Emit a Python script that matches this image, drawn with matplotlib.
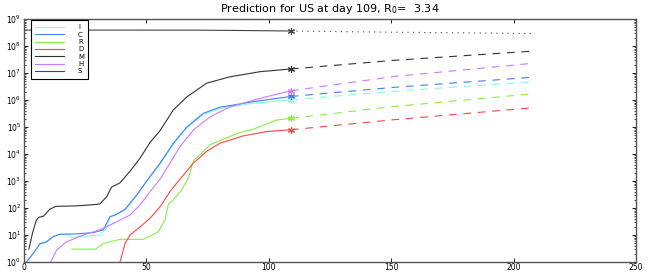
import matplotlib
matplotlib.use("Agg")
import matplotlib.pyplot as plt
from matplotlib.ticker import LogLocator, NullFormatter, MultipleLocator, FixedLocator

plt.rcParams['font.family'] = ['DejaVu Sans']
plt.rcParams['mathtext.default'] = 'regular'

# fitted history (day, value)
days_I = [1, 3.8, 6.5, 9.2, 12, 14.7, 18, 19.5, 25, 31, 33.8, 35.1, 37.2, 41.3, 46, 50.1, 55.6, 61, 66.5, 73.2, 80, 93.7, 109]
vals_I = [1, 2.1, 4.7, 5.6, 8.7, 10.7, 10, 8.2, 9, 10, 18, 46, 53, 85, 290, 950, 4300, 2.3e4, 9.3e4, 2.9e5, 4.8e5, 7.6e5, 1.02e6]

days_C = [1, 3.8, 6.5, 9.2, 12, 14.7, 21.5, 28.3, 32.4, 35.1, 37.2, 41.3, 46, 50.1, 55.6, 61, 66.5, 73.2, 80, 93.7, 109]
vals_C = [1, 2.1, 4.7, 5.6, 8.7, 10.7, 11, 12.3, 15.5, 48, 55, 89, 300, 1000, 4600, 2.5e4, 1.0e5, 3.2e5, 5.4e5, 8.7e5, 1.35e6]

days_R = [19.5, 29.3, 32.4, 39.2, 48.7, 51.5, 54.9, 57.6, 59, 61, 64.4, 67.1, 69.2, 71.9, 76, 82.8, 88.2, 93.7, 97.8, 103, 109]
vals_R = [3, 3, 4.9, 6.9, 6.9, 9.1, 13.2, 36, 141, 200, 470, 1260, 5600, 9300, 2.2e4, 4.0e4, 6.3e4, 8.3e4, 1.17e5, 1.8e5, 2.1e5]

days_D = [39.2, 41.3, 43.3, 47.4, 51.5, 55.6, 59.6, 63.7, 69.2, 74.6, 80, 89.6, 99.1, 109]
vals_D = [1, 4.9, 10, 20, 42, 112, 400, 1170, 4600, 1.26e4, 2.5e4, 4.7e4, 6.8e4, 7.9e4]

days_M = [2, 3.5, 5, 6, 8, 10.5, 13, 21.5, 28, 31, 33.8, 35.8, 39.2, 43.3, 47.4, 51.5, 55.6, 61, 66.5, 74.6, 84, 96.4, 109]
vals_M = [3, 12, 35, 45, 50, 90, 115, 120, 132, 141, 263, 600, 850, 2300, 7000, 27000, 74000, 4.3e5, 1.3e6, 4.2e6, 7.2e6, 1.12e7, 1.41e7]

days_H = [10.9, 13.3, 17.4, 24.2, 31, 37.9, 43.3, 47.4, 51.5, 55.6, 59.6, 63.7, 69.2, 76, 84.2, 96.4, 109]
vals_H = [1, 2.75, 5.6, 10, 15.5, 31, 55, 129, 400, 1170, 4600, 1.86e4, 7.8e4, 2.4e5, 5.6e5, 1.15e6, 2.2e6]

days_S = [0, 70, 90, 109]
vals_S = [3.9e8, 3.88e8, 3.75e8, 3.6e8]

# prediction
days_pred = [109, 151, 208]
pred_I = [1.02e6, 2.1e6, 4.8e6]
pred_C = [1.35e6, 2.95e6, 7.0e6]
pred_R = [2.1e5, 5.75e5, 1.7e6]
pred_D = [7.9e4, 1.86e5, 5.2e5]
pred_M = [1.41e7, 2.95e7, 6.5e7]
pred_H = [2.2e6, 7.4e6, 2.3e7]
pred_S = [3.6e8, 3.25e8, 2.9e8]

labels = ["I", "C", "R", "D", "M", "H", "S"]
colors = ["#7fffd8", "#4a7cff", "#88ee44", "#ff4444", "#333333", "#cc77ff", "#444444"]
history = [(days_I, vals_I), (days_C, vals_C), (days_R, vals_R), (days_D, vals_D),
           (days_M, vals_M), (days_H, vals_H), (days_S, vals_S)]
preds = [pred_I, pred_C, pred_R, pred_D, pred_M, pred_H, pred_S]

fig = plt.figure(figsize=(6.54, 2.73), dpi=100)
ax = fig.add_axes([0.0367, 0.0403, 0.9358, 0.890])

handles = []
for lab, col, (d, v), p in zip(labels, colors, history, preds):
    h, = ax.plot(d, v, color=col, lw=0.8, label=lab)
    handles.append(h)
    if lab == "S":
        ax.plot(days_pred, p, color=col, lw=0.8, linestyle=(0, (1, 4)))
    else:
        ax.plot(days_pred, p, color=col, lw=0.8, linestyle=(0, (7, 6)))
    # asterisk marker at the last fitted day
    ax.plot(d[-1], v[-1], marker=(6, 2, 0), color=col, ms=5, mew=0.8)

ax.set_yscale('log')
ax.set_xlim(0, 250)
ax.set_ylim(1, 1e9)
ax.xaxis.set_major_locator(MultipleLocator(50))
ax.yaxis.set_major_locator(FixedLocator([10.0 ** k for k in range(10)]))
ax.yaxis.set_minor_locator(LogLocator(base=10, subs=range(2, 10), numticks=20))
ax.yaxis.set_minor_formatter(NullFormatter())
ax.tick_params(which='both', direction='in', top=True, right=True, labelsize=5.5)
ax.tick_params(axis='x', pad=0.5)
ax.tick_params(axis='y', pad=2)
ax.tick_params(which='major', length=3, width=0.6)
ax.tick_params(which='minor', length=1.5, width=0.5)
for sp in ax.spines.values():
    sp.set_color('#555555')
    sp.set_linewidth(1.0)
fig.canvas.draw()
for t in ax.get_yticklabels():
    t.set_verticalalignment('center_baseline')

ax.set_title("Prediction for US at day 109, R$_0$=  3.34", fontsize=8, pad=5)

leg = ax.legend(handles=handles, loc='upper left', fontsize=5, handlelength=4.2,
                labelspacing=0.2, handletextpad=2.0, borderpad=0.6, borderaxespad=0,
                fancybox=False, framealpha=1, bbox_to_anchor=(0.011, 0.996))
leg.get_frame().set_edgecolor('black')
leg.get_frame().set_linewidth(0.8)

fig.savefig("out.png", dpi=100)
